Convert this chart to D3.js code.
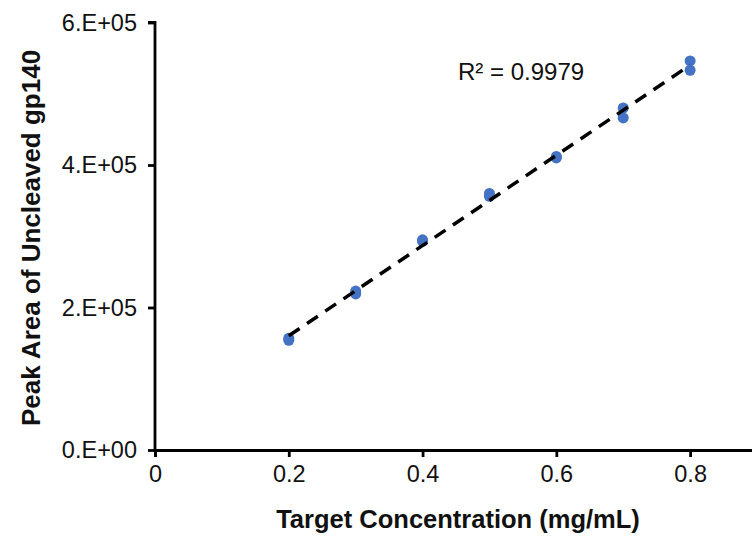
<!DOCTYPE html>
<html><head><meta charset="utf-8">
<script src="https://cdn.jsdelivr.net/npm/d3@7"></script>
<style>
html,body{margin:0;padding:0;background:#fff;}
svg text{font-family:"Liberation Sans",Arial,sans-serif;}
</style></head>
<body>
<svg id="chart" width="752" height="537"></svg>
<script>
// Data
const concentrations = [0.2, 0.2, 0.3, 0.3, 0.4, 0.4, 0.5, 0.5, 0.6, 0.6, 0.7, 0.7, 0.8, 0.8];
const peakAreas = [154000, 157000, 219000, 223000, 293000, 295000, 356000, 360000, 410000, 412000, 466000, 480000, 533000, 546000];
const xTicks = [0, 0.2, 0.4, 0.6, 0.8];
const yTicks = [0, 200000, 400000, 600000];
const yTickLabels = ["0.E+00", "2.E+05", "4.E+05", "6.E+05"];
const r2Label = "R\u00B2 = 0.9979";
const xTitle = "Target Concentration (mg/mL)";
const yTitle = "Peak Area of Uncleaved gp140";

const svg = d3.select("#chart");
const x = d3.scaleLinear().domain([0, 0.9]).range([155, 757]);
const y = d3.scaleLinear().domain([0, 600000]).range([450, 22.5]);

// Axes
const xAxis = d3.axisBottom(x).tickValues(xTicks).tickSize(7).tickPadding(8)
  .tickFormat(d => d === 0 ? "0" : d.toFixed(1));
const yAxis = d3.axisLeft(y).tickValues(yTicks).tickSize(7).tickPadding(11)
  .tickFormat((d, i) => yTickLabels[i]);

const gx = svg.append("g").attr("transform", "translate(0,450)").call(xAxis);
const gy = svg.append("g").attr("transform", "translate(155,0)").call(yAxis);
[gx, gy].forEach(g => {
  g.select(".domain").attr("stroke", "#000").attr("stroke-width", 2.8);
  g.selectAll(".tick line").attr("stroke", "#000").attr("stroke-width", 2.8);
  g.selectAll(".tick text").attr("fill", "#111").style("font-size", "23.5px")
    .style("font-family", "'Liberation Sans',Arial,sans-serif");
});
gy.select(".domain").attr("d", `M-7,${y(600000)}H0V${y(0)}`);

// Linear regression
const n = concentrations.length;
const mx = d3.mean(concentrations), my = d3.mean(peakAreas);
let sxy = 0, sxx = 0;
for (let i = 0; i < n; i++) { sxy += (concentrations[i]-mx)*(peakAreas[i]-my); sxx += (concentrations[i]-mx)**2; }
const slope = sxy/sxx, intercept = my - slope*mx;
const xExt = d3.extent(concentrations);

// Points
svg.append("g").selectAll("circle").data(concentrations).join("circle")
  .attr("cx", d => x(d)).attr("cy", (d, i) => y(peakAreas[i]))
  .attr("r", 5.5).attr("fill", "#4472C4");

// Trendline
svg.append("line")
  .attr("x1", x(xExt[0])).attr("y1", y(intercept + slope*xExt[0]))
  .attr("x2", x(xExt[1])).attr("y2", y(intercept + slope*xExt[1]))
  .attr("stroke", "#000").attr("stroke-width", 3.5)
  .attr("stroke-dasharray", "13,9");

// R² label
svg.append("text").attr("x", 458).attr("y", 80).style("font-size", "24px").attr("fill", "#111").text(r2Label);

// Titles
svg.append("text").attr("x", 458).attr("y", 528).attr("text-anchor", "middle")
  .style("font-size", "25.5px").style("font-weight", "bold").attr("fill", "#111").text(xTitle);
svg.append("text").attr("transform", "translate(40,238) rotate(-90)").attr("text-anchor", "middle")
  .style("font-size", "26px").style("font-weight", "bold").attr("fill", "#111").text(yTitle);
</script>
</body></html>
